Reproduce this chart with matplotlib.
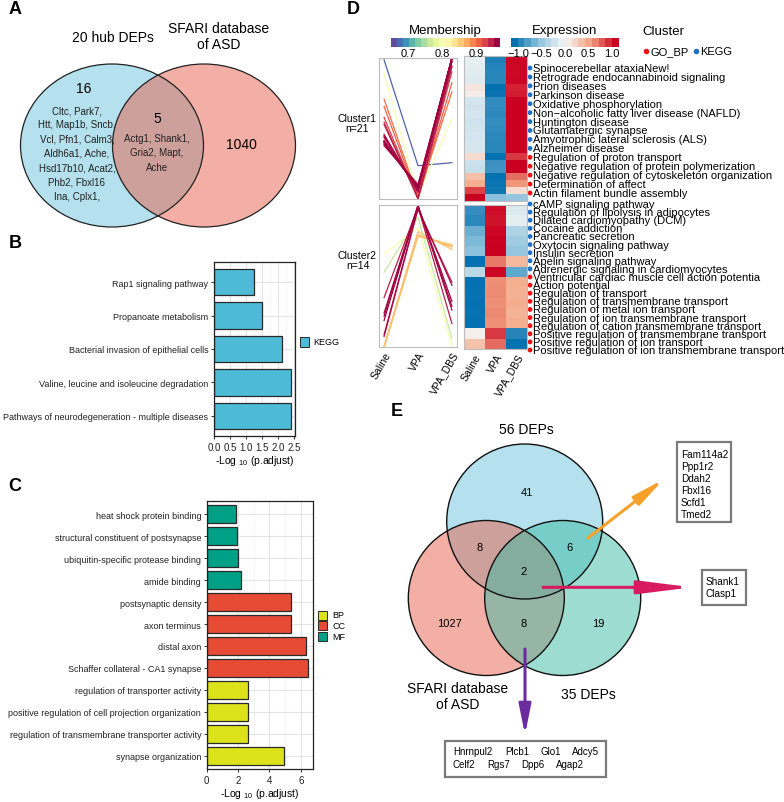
import numpy as np
import matplotlib
matplotlib.use('Agg')
import matplotlib.pyplot as plt
from matplotlib.patches import Ellipse, Rectangle, FancyArrowPatch
from matplotlib.colors import LinearSegmentedColormap, Normalize
from matplotlib.ticker import MultipleLocator

plt.rcParams['font.family'] = ['Liberation Sans', 'DejaVu Sans']
NARROW = ['Liberation Sans Narrow', 'Liberation Sans', 'DejaVu Sans']

W, H = 784, 803

# ---------------- A: hub DEPs vs SFARI ----------------
a_sets = ['20 hub DEPs', 'SFARI database\nof ASD']
a_counts = [16, 5, 1040]          # hub only, shared, SFARI only
a_hub_only = ['Cltc, Park7,', 'Htt, Map1b, Sncb,', 'Vcl, Pfn1, Calm3,', 'Aldh6a1, Ache,',
              'Hsd17b10, Acat2,', 'Phb2, Fbxl16', 'Ina, Cplx1,']
a_shared = ['Actg1, Shank1,', 'Gria2, Mapt,', 'Ache']

# ---------------- B: KEGG ----------------
kegg_terms = ['Rap1 signaling pathway', 'Propanoate metabolism',
              'Bacterial invasion of epithelial cells',
              'Valine, leucine and isoleucine degradation',
              'Pathways of neurodegeneration - multiple diseases']
kegg_padj = [1.24, 1.49, 2.12, 2.38, 2.38]

# ---------------- C: GO ----------------
go_terms = ['heat shock protein binding', 'structural constituent of postsynapse',
            'ubiquitin-specific protease binding', 'amide binding',
            'postsynaptic density', 'axon terminus', 'distal axon',
            'Schaffer collateral - CA1 synapse', 'regulation of transporter activity',
            'positive regulation of cell projection organization',
            'regulation of transmembrane transporter activity', 'synapse organization']
go_padj = [1.87, 1.93, 1.97, 2.16, 5.35, 5.35, 6.35, 6.48, 2.65, 2.65, 2.65, 4.9]
go_ont = ['MF'] * 4 + ['CC'] * 4 + ['BP'] * 4
ont_levels = ['BP', 'CC', 'MF']

# ---------------- D: clusters ----------------
conditions = ['Saline', 'VPA', 'VPA_DBS']
c1_saline = [-0.08, -0.10, -0.12, -0.13, 0.12, 0.08, -0.20, -0.22, -0.20, -0.23, -0.21,
             -0.20, -0.19, -0.18, 0.20, -0.25, -0.27, 0.38, 0.50, 0.92, 1.15]
c1_vpa = [-1.05, -1.02, -1.00, -1.00, -1.15, -1.13, -0.97, -0.96, -0.98, -0.95, -0.97,
          -0.98, -0.99, -0.99, -1.15, -0.92, -0.91, -1.15, -1.12, -1.10, -0.60]
c1_dbs = [1.13, 1.12, 1.12, 1.13, 1.03, 1.05, 1.17, 1.18, 1.18, 1.18, 1.18,
          1.18, 1.18, 1.17, 0.95, 1.17, 1.18, 0.77, 0.62, 0.18, -0.55]
c1_member = [0.95, 0.96, 0.95, 0.96, 0.94, 0.95, 0.96, 0.97, 0.96, 0.97, 0.96,
             0.95, 0.96, 0.95, 0.93, 0.96, 0.95, 0.91, 0.90, 0.80, 0.66]

c2_saline = [-0.95, -0.98, -0.72, -0.65, -0.60, -1.15, -0.35, -1.15, -1.14, -1.15, -1.14,
             -1.15, 0.06, 0.36]
c2_vpa = [1.10, 1.08, 1.13, 1.14, 1.15, 0.72, 1.12, 0.65, 0.66, 0.64, 0.67, 0.65, 0.95, 0.78]
c2_dbs = [-0.15, -0.10, -0.41, -0.49, -0.55, 0.43, -0.77, 0.50, 0.48, 0.51, 0.47, 0.50,
          -1.01, -1.14]
c2_member = [0.96, 0.95, 0.97, 0.97, 0.96, 0.86, 0.95, 0.85, 0.86, 0.85, 0.86, 0.85, 0.76, 0.80]

c1_terms = ['Spinocerebellar ataxiaNew!', 'Retrograde endocannabinoid signaling',
            'Prion diseases', 'Parkinson disease', 'Oxidative phosphorylation',
            'Non\u2212alcoholic fatty liver disease (NAFLD)', 'Huntington disease',
            'Glutamatergic synapse', 'Amyotrophic lateral sclerosis (ALS)', 'Alzheimer disease',
            'Regulation of proton transport', 'Negative regulation of protein polymerization',
            'Negative regulation of cytoskeleton organization', 'Determination of affect',
            'Actin filament bundle assembly']
c1_types = ['KEGG'] * 10 + ['GO_BP'] * 5
c2_terms = ['cAMP signaling pathway', 'Regulation of lipolysis in adipocytes',
            'Dilated cardiomyopathy (DCM)', 'Cocaine addiction', 'Pancreatic secretion',
            'Oxytocin signaling pathway', 'Insulin secretion', 'Apelin signaling pathway',
            'Adrenergic signaling in cardiomyocytes',
            'Ventricular cardiac muscle cell action potentia', 'Action potential',
            'Regulation of transport', 'Regulation of transmembrane transport',
            'Regulation of metal ion transport', 'Regulation of ion transmembrane transport',
            'Regulation of cation transmembrane transport',
            'Positive regulation of transmembrane transport',
            'Positive regulation of ion transport',
            'Positive regulation of ion transmembrane transport']
c2_types = ['KEGG'] * 9 + ['GO_BP'] * 10

# ---------------- E: three-way Venn ----------------
e_sets = ['56 DEPs', 'SFARI database\nof ASD', '35 DEPs']
# 56 only, 56&SFARI, 56&35, all three, SFARI only, SFARI&35, 35 only
e_counts = [41, 8, 6, 2, 1027, 8, 19]
e_genes_56_35 = ['Fam114a2', 'Ppp1r2', 'Ddah2', 'Fbxl16', 'Scfd1', 'Tmed2']
e_genes_all = ['Shank1', 'Clasp1']
e_genes_sfari_35 = ['Hnrnpul2', 'Plcb1', 'Glo1', 'Adcy5', 'Celf2', 'Rgs7', 'Dpp6', 'Agap2']


fig = plt.figure(figsize=(W / 100, H / 100), dpi=100)


def pax(x0, y0, x1, y1):
    return fig.add_axes([x0 / W, 1 - y1 / H, (x1 - x0) / W, (y1 - y0) / H])


# overlay in pixel coordinates for diagrams and free text
ov = fig.add_axes([0, 0, 1, 1])
ov.set_xlim(0, W)
ov.set_ylim(H, 0)
ov.axis('off')

for lab, (x, y) in zip('ABCDE', [(15, 10), (15, 243), (15, 487), (353, 9), (397, 412)]):
    ov.text(x, y, lab, fontsize=13, fontweight='bold', ha='center', va='center')

# ---- A ----
for (cx, cy, col) in [(112, 146.5, '#6bc5dd'), (204, 146.5, '#e9614d')]:
    ov.add_patch(Ellipse((cx, cy), 183, 163, fc=col, alpha=0.5, ec='none'))
for cx in (112, 204):
    ov.add_patch(Ellipse((cx, 146.5), 183, 163, fill=False, ec='#222222', lw=0.9))
ov.text(113, 38, a_sets[0], fontsize=10, ha='center', va='center')
ov.text(219, 37, a_sets[1], fontsize=10, ha='center', va='center', linespacing=1.1)
ov.text(84, 89, str(a_counts[0]), fontsize=10, ha='center', va='center')
ov.text(157, 119, str(a_counts[1]), fontsize=10, ha='center', va='center')
ov.text(241, 145, str(a_counts[2]), fontsize=10, ha='center', va='center')
for i, line in enumerate(a_hub_only):
    ov.text(77, 111 + 14.3 * i, line, fontsize=7, family=NARROW, ha='center', va='center',
            color='#222222')
for i, line in enumerate(a_shared):
    ov.text(157, 139 + 14.3 * i, line, fontsize=7, family=NARROW, ha='center', va='center',
            color='#222222')


def style_bar(ax):
    ax.set_axisbelow(True)
    ax.grid(True, which='major', color='#e4e4e4', lw=0.8)
    ax.grid(True, which='minor', axis='x', color='#f2f2f2', lw=0.5)
    for s in ax.spines.values():
        s.set_color('#222222')
        s.set_linewidth(0.9)
    ax.tick_params(which='major', length=2.5, width=0.7, color='#333333', labelsize=6.5,
                   pad=1.5, labelcolor='#222222')
    ax.tick_params(which='minor', length=0)


# ---- B ----
axB = pax(214, 263, 295, 437)
yb = np.arange(len(kegg_terms))
axB.barh(yb, kegg_padj, height=0.8, color='#4dbbd5', edgecolor='#2a2a2a', lw=0.9)
axB.set_yticks(yb, kegg_terms)
axB.set_ylim(len(kegg_terms) - 0.4, -0.6)
axB.set_xlim(0, 2.52)
axB.set_xticks(np.arange(0, 2.51, 0.5))
axB.xaxis.set_minor_locator(MultipleLocator(0.25))
style_bar(axB)
axB.tick_params(axis='x', labelsize=7)
axB.set_xlabel(r'-Log $_{\mathregular{10}}$ (p.adjust)', fontsize=7.5, labelpad=1)
ov.add_patch(Rectangle((300, 338), 9, 10, fc='#4dbbd5', ec='#2a2a2a', lw=0.7))
ov.text(313, 343, 'KEGG', fontsize=6.5, va='center')

# ---- C ----
ont_colors = {'BP': '#dde31b', 'CC': '#e64b35', 'MF': '#00a087'}
axC = pax(206.7, 502, 313.3, 770)
yc = np.arange(len(go_terms))
axC.barh(yc, go_padj, height=0.8, color=[ont_colors[o] for o in go_ont],
         edgecolor='#2a2a2a', lw=0.9)
axC.set_yticks(yc, go_terms)
axC.set_ylim(len(go_terms) - 0.4, -0.6)
axC.set_xlim(0, 6.8)
axC.set_xticks([0, 2, 4, 6])
axC.xaxis.set_minor_locator(MultipleLocator(1))
style_bar(axC)
axC.tick_params(axis='x', labelsize=7)
axC.set_xlabel(r'-Log $_{\mathregular{10}}$ (p.adjust)', fontsize=7.5, labelpad=1)
for i, o in enumerate(ont_levels):
    ov.add_patch(Rectangle((318.3, 611.5 + 10.9 * i), 9, 9, fc=ont_colors[o], ec='#2a2a2a', lw=0.7))
    ov.text(332.7, 616 + 10.9 * i, o, fontsize=6.5, va='center')

# ---- D ----
mem_cmap = plt.get_cmap('Spectral_r')
mem_norm = Normalize(0.65, 0.965)
expr_cmap = LinearSegmentedColormap.from_list(
    'expr', ['#0571b0', '#92c5de', '#f7f7f7', '#f4a582', '#ca0020'])
type_colors = {'GO_BP': '#ee1010', 'KEGG': '#1b70c8'}

clusters = [
    (c1_saline, c1_vpa, c1_dbs, c1_member, 'Cluster1\nn=21', (59, 200), (57, 202), 124,
     c1_terms, c1_types, (69, 194)),
    (c2_saline, c2_vpa, c2_dbs, c2_member, 'Cluster2\nn=14', (206, 348), (206, 350), 261,
     c2_terms, c2_types, (205, 351)),
]
for k, (s, v, d, m, clab, lbox, hbox, ly, terms, types, trange) in enumerate(clusters):
    z = np.column_stack([s, v, d])
    axL = pax(379, lbox[0], 457, lbox[1])
    for i in np.argsort(m):
        axL.plot(range(3), z[i], color=mem_cmap(mem_norm(m[i])), lw=0.9)
    axL.set_xlim(-0.15, 2.15)
    axL.set_ylim(z.min(), z.max())
    axL.set_yticks([])
    for sp in axL.spines.values():
        sp.set_color('#bdbdbd')
        sp.set_linewidth(0.8)
    axH = pax(464, hbox[0], 527, hbox[1])
    axH.imshow(z, cmap=expr_cmap, vmin=-1.15, vmax=1.15, aspect='auto',
               interpolation='nearest')
    axH.set_yticks([])
    for sp in axH.spines.values():
        sp.set_color('#bdbdbd')
        sp.set_linewidth(0.8)
    for ax in (axL, axH):
        if k == 1:
            ax.set_xticks(range(3))
            ax.set_xticklabels(conditions, rotation=60, ha='right', va='top',
                               rotation_mode='anchor', fontsize=7.5)
            ax.tick_params(axis='x', length=0, pad=2)
        else:
            ax.set_xticks([])
    ov.text(357.5, ly, clab, fontsize=7.5, ha='center', va='center', linespacing=1.0)
    ys = np.linspace(trange[0], trange[1], len(terms))
    ov.scatter([530] * len(terms), ys, s=12, c=[type_colors[t] for t in types], zorder=3,
               linewidths=0)
    for yy, t in zip(ys, terms):
        ov.text(533.5, yy, t, fontsize=8, va='center', ha='left')

# colour bars and legend
cb1 = pax(391, 39, 499, 48)
mv = np.linspace(0.65, 0.965, 18)
cb1.imshow(mv[None, :], cmap=mem_cmap, norm=mem_norm, aspect='auto',
           extent=(0.65, 0.965, 0, 1))
cb1.set_xticks([0.7, 0.8, 0.9])
cb1.set_yticks([])
cb2 = pax(511, 39, 619, 48)
ev = np.linspace(-1.15, 1.15, 16)
cb2.imshow(ev[None, :], cmap=expr_cmap, vmin=-1.15, vmax=1.15, aspect='auto',
           extent=(-1.15, 1.15, 0, 1))
cb2.set_xticks([-1.0, -0.5, 0.0, 0.5, 1.0])
cb2.set_xticklabels(['\u22121.0', '\u22120.5', '0.0', '0.5', '1.0'])
cb2.set_yticks([])
for cb in (cb1, cb2):
    cb.tick_params(axis='x', length=0, pad=1, labelsize=8)
    for sp in cb.spines.values():
        sp.set_visible(False)
ov.text(445, 31, 'Membership', fontsize=9.5, ha='center', va='center')
ov.text(565, 31, 'Expression', fontsize=9.5, ha='center', va='center')
ov.text(642, 32, 'Cluster', fontsize=9.5, ha='left', va='center')
for xx, t in [(646, 'GO_BP'), (696, 'KEGG')]:
    ov.scatter([xx], [52], s=16, c=type_colors[t], linewidths=0)
    ov.text(xx + 4.5, 52, t, fontsize=8, va='center')

# ---- E ----
e_circles = [((524.7, 522.5), '#6bc5dd'), ((486.3, 599), '#e9614d'), ((562.7, 599), '#3bbba5')]
for (c, col) in e_circles:
    ov.add_patch(Ellipse(c, 156, 155, fc=col, alpha=0.5, ec='none'))
for (c, col) in e_circles:
    ov.add_patch(Ellipse(c, 156, 155, fill=False, ec='#111111', lw=1.0))
for t, (x, y) in zip(e_sets, [(526.7, 430), (457.7, 697), (588, 695)]):
    ov.text(x, y, t, fontsize=10, ha='center', va='center', linespacing=1.1)
count_pos = [(526.7, 492.7), (480, 548), (570, 548), (524, 571.7), (449.3, 624.3),
             (524, 624), (598, 624)]
for n, (x, y) in zip(e_counts, count_pos):
    ov.text(x, y, str(n), fontsize=8, ha='center', va='center')

box_kw = dict(fc='white', ec='#7a7a7a', lw=1.6, zorder=4)
ov.add_patch(Rectangle((676.7, 443), 54, 80, **box_kw))
for i, g in enumerate(e_genes_56_35):
    ov.text(681, 455 + 12 * i, g, fontsize=7.2, va='center', zorder=5)
ov.add_patch(Rectangle((701.7, 570.7), 44.3, 35.3, **box_kw))
for i, g in enumerate(e_genes_all):
    ov.text(706, 582 + 12 * i, g, fontsize=7.2, va='center', zorder=5)
ov.add_patch(Rectangle((445.3, 742.3), 160.7, 36, **box_kw))
bx = [453, 505, 541, 572, 453, 487, 521, 556]
for i, g in enumerate(e_genes_sfari_35):
    ov.text(bx[i], 752 if i < 4 else 765, g, fontsize=7, va='center', zorder=5)

arrows = [((588, 539), (664, 480), '#f7a12a', 19, 3.2),
          ((543, 588.3), (692, 588.3), '#d81b60', 32, 4.0),
          ((525, 650), (525, 736), '#6a2c9f', 18, 3.6)]
for (p0, p1, col, hl, hw) in arrows:
    ov.add_patch(FancyArrowPatch(p0, p1, arrowstyle=f'-|>,head_length={hl},head_width={hw}',
                                 mutation_scale=1, color=col, lw=2.2, shrinkA=0, shrinkB=0,
                                 zorder=3))

fig.savefig('out.png', dpi=100)
